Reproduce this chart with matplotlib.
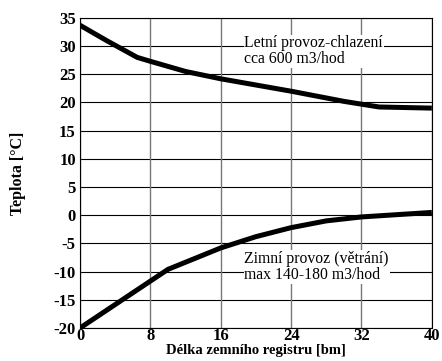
import matplotlib.pyplot as plt

# delka registru [bm]
leto_x = [0, 3, 6.5, 8, 12, 16, 24, 30, 34, 40]
leto_t = [33.7, 31.0, 28.0, 27.3, 25.5, 24.2, 22.0, 20.2, 19.2, 19.0]
zima_x = [0, 5, 10, 16, 20, 24, 28, 32, 40]
zima_t = [-20.0, -14.8, -9.6, -5.8, -3.8, -2.2, -1.0, -0.3, 0.5]

xticks = [0, 8, 16, 24, 32, 40]
yticks = [-20, -15, -10, -5, 0, 5, 10, 15, 20, 25, 30, 35]

plt.rcParams['font.family'] = ['Liberation Serif', 'DejaVu Serif']
plt.rcParams['axes.unicode_minus'] = False

fig = plt.figure(figsize=(4.42, 3.61), dpi=100)
ax = fig.add_axes([0.181, 0.0914, 0.796, 0.859])

ax.plot(leto_x, leto_t, color='black', lw=3.6, solid_capstyle='butt', zorder=3)
ax.plot(zima_x, zima_t, color='black', lw=3.6, solid_capstyle='butt', zorder=3)

ax.set_xlim(0, 40)
ax.set_ylim(-20, 35)
ax.set_xticks(xticks)
ax.set_yticks(yticks)
for y in yticks:
    ax.axhline(y, color='black', lw=0.8, zorder=1)
for x in xticks:
    ax.axvline(x, color='#777777', lw=1.0, zorder=1)
ax.tick_params(axis='y', length=0, pad=3, labelsize=12)
ax.tick_params(axis='x', length=0, pad=0, labelsize=12)
for lab in ax.get_xticklabels() + ax.get_yticklabels():
    lab.set_fontweight('bold')
for s in ax.spines.values():
    s.set_linewidth(0.8)

ax.text(18.7, 29.1, 'Letní provoz-chlazení\ncca 600 m3/hod', fontsize=11.3,
        va='center', ha='left', linespacing=1.0,
        bbox=dict(facecolor='white', edgecolor='none', pad=0.5), zorder=4)
ax.text(18.7, -9.2, 'Zimní provoz (větrání)\nmax 140-180 m3/hod', fontsize=11.3,
        va='center', ha='left', linespacing=1.0,
        bbox=dict(facecolor='white', edgecolor='none', pad=0.5), zorder=4)

ax.set_ylabel('Teplota [°C]', fontsize=11.5, fontweight='bold', labelpad=20)
ax.set_xlabel('Délka zemního registru [bm]', fontsize=10.5, fontweight='bold', labelpad=0)

fig.savefig('out.png', dpi=100)
